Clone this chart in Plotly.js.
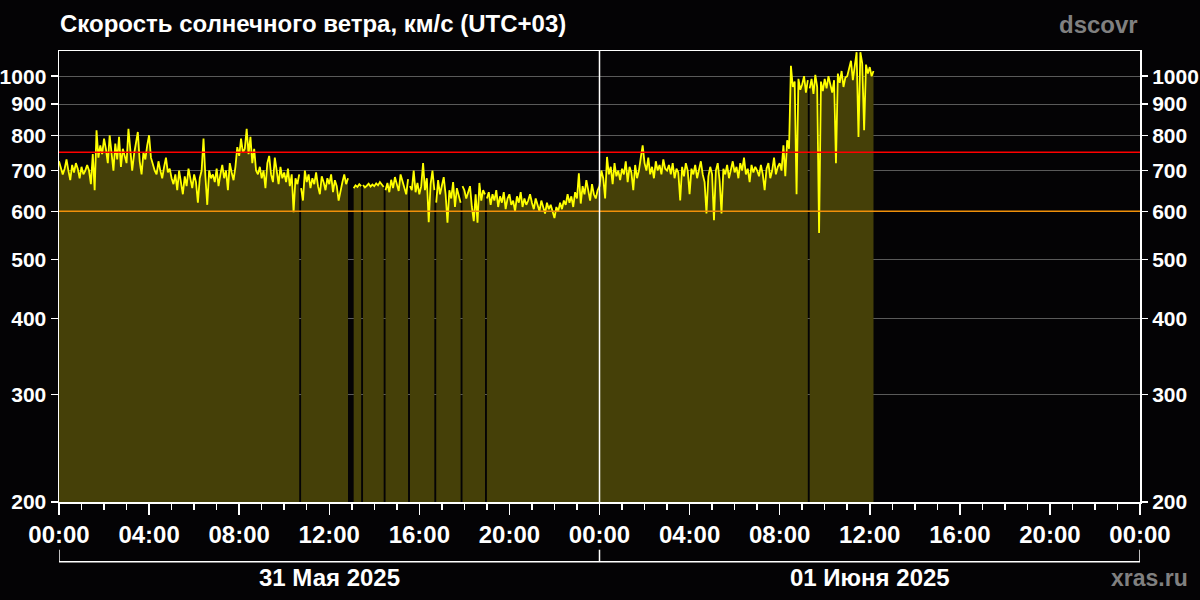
<!DOCTYPE html>
<html>
<head>
<meta charset="utf-8">
<script src="https://cdn.plot.ly/plotly-3.0.1.min.js"></script>
<style>html,body{margin:0;padding:0;background:#040305;}#chart{width:1200px;height:600px;}</style>
</head>
<body>
<div id="chart"></div>
<script>
// ---- Data (solar wind speed, km/s, 5-minute samples from 2025-05-31 00:00 UTC+03) ----
const startDay = '2025-05-31';
const sampleMinutes = 5;
// one row per hour, 12 samples each (null = no data)
const speed = [
  725, 710, 690, 705, 730, 700, 675, 715, 695, 720, 705, 680,   // 00
  710, 690, 700, 715, 700, 665, 745, 650, 815, 735, 770, 745,   // 01
  790, 760, 720, 800, 745, 700, 775, 730, 795, 710, 760, 735,   // 02
  720, 820, 760, 700, 745, 780, 810, 725, 690, 750, 730, 770,   // 03
  800, 735, 715, 700, 690, 725, 700, 680, 710, 735, 695, 705,   // 04
  680, 665, 690, 650, 700, 670, 640, 685, 660, 705, 675, 655,   // 05
  690, 670, 620, 680, 700, 790, 685, 615, 700, 680, 690, 670,   // 06
  705, 660, 690, 715, 680, 700, 650, 720, 695, 675, 710, 765,   // 07
  740, 790, 750, 760, 820, 745, 795, 720, 760, 700, 690, 710,   // 08
  680, 700, 655, 720, 740, 690, 670, 735, 700, 665, 710, 680,   // 09
  695, 670, 705, 660, 690, 598, 680, 665, 690, 655, 625, 700,   // 10
  670, 690, 655, 680, 665, 695, 660, 640, 685, 670, 650, 680,   // 11
  665, 690, 645, 675, 660, 625, 650, 670, 690, 665, 680, null,  // 12
  null, 655, 662, 658, 665, 660, 663, 657, 661, 666, 659, 664,  // 13
  660, 667, 662, 670, 664, 658, 650, 668, 645, 676, 655, 683,   // 14
  665, 648, 690, 672, 655, 640, 678, 660, 650, 700, 645, 668,   // 15
  640, 660, 720, 650, 680, 576, 665, 700, 650, 620, 675, 640,   // 16
  660, 683, 640, 575, 650, 630, 670, 610, 655, 640, 620, 660,   // 17
  650, 630, 645, 660, 610, 578, 640, 575, 668, 625, 650, 640,   // 18
  630, 645, 615, 640, 625, 650, 610, 635, 620, 645, 605, 630,   // 19
  640, 615, 625, 600, 635, 620, 645, 610, 630, 615, 625, 640,   // 20
  620, 605, 630, 615, 600, 625, 610, 595, 620, 605, 615, 600,   // 21
  585, 610, 600, 620, 605, 625, 615, 640, 620, 635, 610, 645,   // 22
  630, 693, 618, 660, 640, 675, 650, 625, 665, 640, 630, 650,   // 23
  660, 700, 680, 630, 737, 690, 710, 665, 720, 685, 700, 675,   // 00 (01.06)
  705, 690, 725, 670, 710, 695, 650, 715, 680, 700, 735, 770,   // 01
  720, 700, 735, 690, 710, 680, 725, 700, 715, 690, 730, 705,   // 02
  700, 715, 690, 720, 680, 705, 695, 625, 710, 685, 720, 700,   // 03
  640, 705, 690, 715, 680, 700, 725, 690, 670, 595, 685, 710,   // 04
  690, 580, 700, 720, 675, 595, 705, 690, 715, 680, 700, 725,   // 05
  695, 710, 680, 720, 700, 735, 690, 705, 670, 715, 695, 710,   // 06
  700, 685, 715, 690, 650, 705, 720, 680, 700, 735, 690, 710,   // 07
  720, 700, 770, 685, 785, 760, 1040, 960, 980, 640, 990, 950,  // 08
  970, 1000, 940, 985, 955, 990, 935, 1005, 960, 553, 980, 945, // 09
  990, 955, 1000, 965, 940, 985, 720, 1010, 975, 1020, 960, 995,// 10
  1000, 1030, 1060, 985, 1040, 1095, 795, 1095, 1050, 815, 1045, 1010, // 11
  1035, 1000, 1020                                              // 12
];
// short data dropouts (hours from start)
const gapHours = [10.69, 13.42, 14.48, 15.57, 16.73, 17.84, 18.96, 33.27];
const alertHigh = 750;
const alertLow = 600;
const yTicks = [200, 300, 400, 500, 600, 700, 800, 900, 1000];
const dayLabels = ['31 Мая 2025', '01 Июня 2025'];
const dayStarts = ['2025-05-31', '2025-06-01', '2025-06-02'];

// ---- split series into continuous segments at dropouts ----
const t0 = Date.UTC(2025, 4, 31);
const segments = [];
let cur = {x: [], y: []};
let prevH = -1;
const closeSeg = () => { if (cur.x.length) segments.push(cur); cur = {x: [], y: []}; };
speed.forEach((v, k) => {
  const h = k * sampleMinutes / 60;
  if (gapHours.some(g => g > prevH && g < h)) closeSeg();
  prevH = h;
  if (v === null) { closeSeg(); return; }
  cur.x.push(t0 + h * 3600000);
  cur.y.push(v);
});
closeSeg();

const font = {family: 'Liberation Sans, Arial, sans-serif', color: '#ffffff', weight: 'bold'};
const traces = segments.map(s => ({
  x: s.x, y: s.y, type: 'scatter', mode: 'lines', fill: 'tozeroy', fillcolor: '#454008',
  line: {color: '#ffff00', width: 1.8}, hoverinfo: 'skip', showlegend: false
}));
traces.push(
  {x: [dayStarts[0], dayStarts[2]], y: [alertHigh, alertHigh], mode: 'lines', line: {color: '#ff0000', width: 1.5}, showlegend: false, hoverinfo: 'skip'},
  {x: [dayStarts[0], dayStarts[2]], y: [alertLow, alertLow], mode: 'lines', line: {color: '#f0900a', width: 1.5}, showlegend: false, hoverinfo: 'skip'},
  {x: [dayStarts[0]], y: [null], yaxis: 'y2', mode: 'lines', showlegend: false, hoverinfo: 'skip'}
);

const yRange = [Math.log10(200), Math.log10(1100)];
const yAxisCommon = {
  type: 'log', range: yRange, tickvals: yTicks, ticktext: yTicks.map(String),
  ticks: 'outside', ticklen: 7, tickcolor: '#ffffff', tickwidth: 1.5,
  tickfont: Object.assign({}, font, {size: 21}), zeroline: false, fixedrange: true
};

const layout = {
  width: 1200, height: 600,
  paper_bgcolor: '#040305', plot_bgcolor: '#040305',
  margin: {l: 59, r: 60, t: 51, b: 98},
  showlegend: false,
  title: {text: 'Скорость солнечного ветра, км/с (UTC+03)', xref: 'container', yref: 'container',
          x: 60 / 1200, xanchor: 'left', y: 1 - 24 / 600, yanchor: 'middle',
          font: Object.assign({}, font, {size: 24})},
  xaxis: {
    type: 'date', range: [dayStarts[0], dayStarts[2]],
    tick0: dayStarts[0], dtick: 4 * 3600000, tickformat: '%H:%M',
    ticks: 'outside', ticklen: 11, tickcolor: '#ffffff', tickwidth: 1.5,
    minor: {dtick: 3600000, ticks: 'outside', ticklen: 6, tickcolor: '#ffffff', tickwidth: 1.5, showgrid: false},
    showgrid: false, zeroline: false,
    showline: true, mirror: true, linecolor: '#ffffff', linewidth: 1.5,
    tickfont: Object.assign({}, font, {size: 24}), fixedrange: true
  },
  yaxis: Object.assign({}, yAxisCommon, {
    showgrid: true, gridcolor: '#5a5a5a', gridwidth: 1,
    showline: true, mirror: true, linecolor: '#ffffff', linewidth: 1.5
  }),
  yaxis2: Object.assign({}, yAxisCommon, {overlaying: 'y', side: 'right', showgrid: false, showline: false}),
  shapes: [
    {type: 'line', xref: 'x', yref: 'paper', x0: dayStarts[1], x1: dayStarts[1], y0: 0, y1: 1,
     line: {color: '#ffffff', width: 1.5}, layer: 'above'},
    // date brackets
    {type: 'line', xref: 'x', yref: 'paper', x0: dayStarts[0], x1: dayStarts[2], y0: -0.1324, y1: -0.1324, line: {color: '#ffffff', width: 1.5}},
    {type: 'line', xref: 'x', yref: 'paper', x0: dayStarts[0], x1: dayStarts[0], y0: -0.1058, y1: -0.1324, line: {color: '#ffffff', width: 1.5}},
    {type: 'line', xref: 'x', yref: 'paper', x0: dayStarts[1], x1: dayStarts[1], y0: -0.1058, y1: -0.1324, line: {color: '#ffffff', width: 1.5}},
    {type: 'line', xref: 'x', yref: 'paper', x0: dayStarts[2], x1: dayStarts[2], y0: -0.1058, y1: -0.1324, line: {color: '#ffffff', width: 1.5}}
  ],
  annotations: [
    {text: dayLabels[0], xref: 'x', yref: 'paper', x: '2025-05-31 12:00', y: -0.168, xanchor: 'center', yanchor: 'middle', showarrow: false, font: Object.assign({}, font, {size: 24})},
    {text: dayLabels[1], xref: 'x', yref: 'paper', x: '2025-06-01 12:00', y: -0.168, xanchor: 'center', yanchor: 'middle', showarrow: false, font: Object.assign({}, font, {size: 24})},
    {text: 'dscovr', xref: 'paper', yref: 'paper', x: 1, y: (502.3 - 25) / 451, xanchor: 'right', yanchor: 'middle', showarrow: false, font: Object.assign({}, font, {size: 24, color: '#808080'})},
    {text: 'xras.ru', xref: 'paper', yref: 'paper', x: (1190 - 59) / 1081, y: -0.168, xanchor: 'right', yanchor: 'middle', showarrow: false, font: Object.assign({}, font, {size: 23, color: '#808080'})}
  ]
};

Plotly.newPlot('chart', traces, layout, {staticPlot: true, displayModeBar: false});
</script>
</body>
</html>
